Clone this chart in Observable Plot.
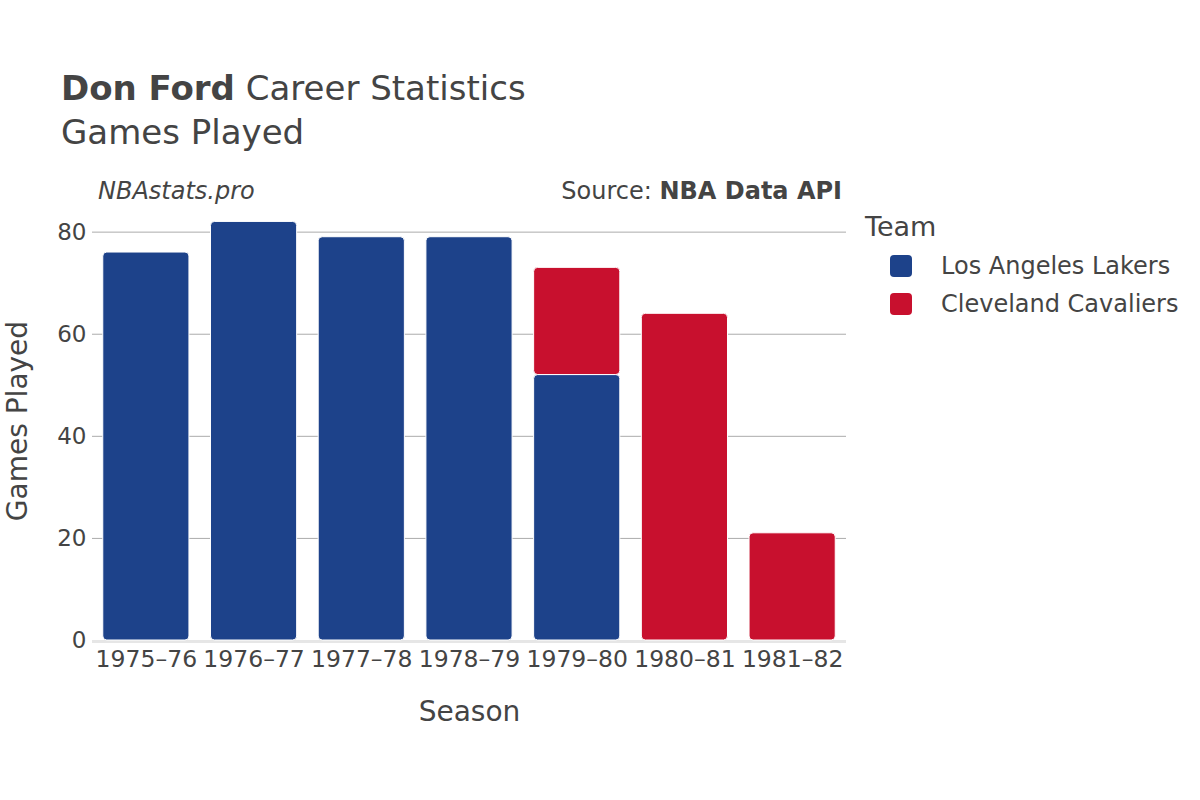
<!DOCTYPE html>
<html>
<head>
<meta charset="utf-8">
<script src="https://cdn.jsdelivr.net/npm/d3@7"></script>
<script src="https://cdn.jsdelivr.net/npm/@observablehq/plot@0.6"></script>
<style>
  html, body { margin: 0; padding: 0; background: #fff; }
  body { width: 1200px; height: 800px; position: relative; overflow: hidden; font-family: "DejaVu Sans", sans-serif; color: #444; }
  .abs { position: absolute; white-space: nowrap; line-height: 1; }
  #chart { position: absolute; left: 0; top: 0; }
  .sw { position: absolute; width: 22px; height: 22px; border-radius: 4px; }
</style>
</head>
<body>
<div id="chart"></div>
<div class="abs" style="left:61px; top:71px; font-size:34px;"><b>Don Ford</b> Career Statistics</div>
<div class="abs" style="left:61px; top:115px; font-size:34px;">Games Played</div>
<div class="abs" style="left:98px; top:179px; font-size:24px; font-style:italic;">NBAstats.pro</div>
<div class="abs" style="right:358px; top:179px; font-size:24px;">Source: <b>NBA Data API</b></div>
<div id="legend"></div>
<script>
const seasons = ["1975–76", "1976–77", "1977–78", "1978–79", "1979–80", "1980–81", "1981–82"];
const teams = ["Los Angeles Lakers", "Cleveland Cavaliers"];
const teamColors = ["#1d428a", "#c8102e"];
const lakersGames = [76, 82, 79, 79, 52, 0, 0];
const cavaliersGames = [0, 0, 0, 0, 21, 64, 21];
const yTicks = [0, 20, 40, 60, 80];

const data = [];
seasons.forEach((s, i) => {
  if (lakersGames[i] > 0) data.push({season: s, team: teams[0], games: lakersGames[i]});
});
seasons.forEach((s, i) => {
  if (cavaliersGames[i] > 0) data.push({season: s, team: teams[1], games: cavaliersGames[i]});
});

const chart = Plot.plot({
  width: 1200,
  height: 800,
  marginLeft: 92,
  marginRight: 354,
  marginTop: 201,
  marginBottom: 160,
  style: {fontFamily: "DejaVu Sans, sans-serif", color: "#444", background: "transparent"},
  x: {type: "band", domain: seasons, paddingInner: 0.2, paddingOuter: 0.1, round: false, label: null},
  y: {domain: [0, 86], label: null},
  color: {domain: teams, range: teamColors},
  marks: [
    Plot.ruleY(yTicks.filter(d => d > 0), {stroke: "#ababab", strokeWidth: 1}),
    Plot.ruleY([0], {stroke: "#e6e6e6", strokeWidth: 3, dy: 1}),
    Plot.barY(data, {x: "season", y: "games", fill: "team", stroke: "white", strokeWidth: 1, rx: 4}),
    Plot.axisX({tickSize: 0, tickPadding: 10, fontSize: 23.5, label: null}),
    Plot.axisY({ticks: yTicks, tickSize: 0, tickPadding: 6, fontSize: 23, label: null}),
    Plot.text(["Season"], {frameAnchor: "bottom", dy: 72, lineAnchor: "middle", fontSize: 28, fill: "#444"}),
    Plot.text(["Games Played"], {frameAnchor: "left", dx: -74, rotate: -90, textAnchor: "middle", lineAnchor: "middle", fontSize: 28, fill: "#444"})
  ]
});
document.getElementById("chart").appendChild(chart);

// Legend
const legend = document.getElementById("legend");
const title = document.createElement("div");
title.className = "abs";
title.style.cssText = "left:865px; top:213px; font-size:27px;";
title.textContent = "Team";
legend.appendChild(title);
teams.forEach((t, i) => {
  const sw = document.createElement("div");
  sw.className = "sw";
  sw.style.cssText = `left:890px; top:${255 + i * 38}px; background:${teamColors[i]};`;
  legend.appendChild(sw);
  const lab = document.createElement("div");
  lab.className = "abs";
  lab.style.cssText = `left:941px; top:${254 + i * 38}px; font-size:24px;`;
  lab.textContent = t;
  legend.appendChild(lab);
});
</script>
</body>
</html>
